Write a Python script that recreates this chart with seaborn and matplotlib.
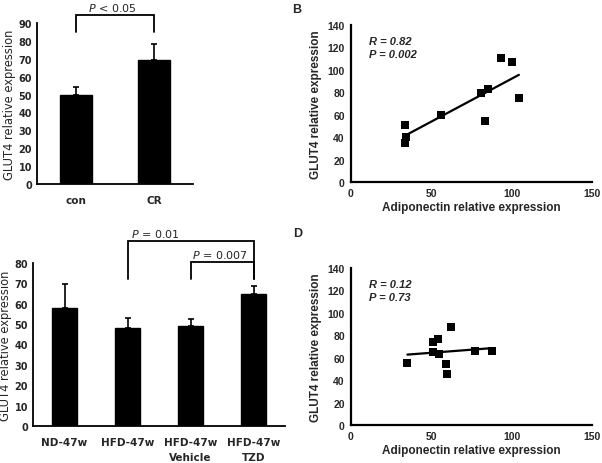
import numpy as np
import pandas as pd
import matplotlib
matplotlib.use("Agg")
import matplotlib.pyplot as plt
import seaborn as sns

sns.set_style("white")
plt.rcParams['font.family'] = ['DejaVu Sans']

# ---- data ----
a_cats = ["con", "CR"]
a_vals = [50, 69.5]
a_errs = [4, 8.5]

c_cats = ["ND-47w", "HFD-47w", "HFD-47w\nVehicle", "HFD-47w\nTZD"]
c_vals = [58, 48, 49, 65]
c_errs = [11.7, 5, 3.5, 3.8]

b_x = [33.7, 33.7, 34.5, 56.3, 80.8, 85.2, 83.1, 93.5, 99.9, 104.5]
b_y = [50.5, 34.5, 40.4, 59.8, 79.4, 83.2, 54.7, 110.9, 107.3, 74.9]

d_x = [35.1, 50.9, 54.0, 50.9, 54.6, 62.1, 59.4, 59.6, 77.1, 87.5]
d_y = [55.1, 73.9, 76.6, 65.5, 63.4, 87.3, 54.8, 45.6, 65.8, 66.1]

a_ticks = [0, 10, 20, 30, 40, 50, 60, 70, 80, 90]
c_ticks = [0, 10, 20, 30, 40, 50, 60, 70, 80]
sc_yticks = [0, 20, 40, 60, 80, 100, 120, 140]
sc_xticks = [0, 50, 100, 150]

W, H = 602, 464
fig = plt.figure(figsize=(W / 100, H / 100), dpi=100)


def px_axes(left, top, right, bottom):
    return fig.add_axes([left / W, 1 - bottom / H, (right - left) / W, (bottom - top) / H])


def bar_panel(ax, cats, vals, errs, yticks, ylim):
    df = pd.DataFrame({"cat": cats, "val": vals})
    sns.barplot(data=df, x="cat", y="val", color="black", width=0.4, ax=ax,
                saturation=1, edgecolor="black", errorbar=None)
    xs = np.arange(len(cats))
    ax.errorbar(xs, vals, yerr=[np.zeros(len(errs)), errs], fmt="none",
                ecolor="black", elinewidth=1.2, capsize=2, capthick=1.2)
    ax.set_xlim(-0.5, len(cats) - 0.5)
    ax.set_ylim(*ylim)
    ax.set_yticks(yticks)
    ax.set_yticklabels([str(t) for t in yticks], fontsize=7, fontweight="bold")
    ax.set_xticks(xs)
    ax.set_xticklabels(cats, fontsize=7.5, fontweight="bold", linespacing=1.55)
    ax.set_xticks(np.arange(len(cats) + 1) - 0.5, minor=True)
    ax.tick_params(axis="x", which="major", length=0, pad=8)
    ax.tick_params(axis="x", which="minor", length=3.5, width=1.2, direction="out")
    ax.tick_params(axis="y", length=3, width=1.2, direction="inout", pad=2)
    for s in ["top", "right"]:
        ax.spines[s].set_visible(False)
    for s in ["left", "bottom"]:
        ax.spines[s].set_linewidth(1.3)
        ax.spines[s].set_color("black")
    ax.set_xlabel("")
    ax.set_ylabel("GLUT4 relative expression", fontsize=8.3, labelpad=2)


def bracket(ax, x1, x2, ytop, yl, yr, text, tx, ty):
    ax.plot([x1, x1, x2, x2], [yl, ytop, ytop, yr], color="black", lw=1.3,
            clip_on=False, solid_joinstyle="miter")
    ax.text(tx, ty, text, ha="center", va="bottom", fontsize=8, clip_on=False)


# Panel A
axA = px_axes(37, 24, 193, 185)
bar_panel(axA, a_cats, a_vals, a_errs, a_ticks, (0, 90))
bracket(axA, 0, 1, 94.4, 85, 85, r"$P$ < 0.05", 0.47, 95.8)

# Panel C
axC = px_axes(33, 264, 285, 427)
bar_panel(axC, c_cats, c_vals, c_errs, c_ticks, (0, 80))
bracket(axC, 1, 3, 90.7, 72, 72, r"$P$ = 0.01", 1.44, 91.7)
bracket(axC, 2, 3, 80.3, 72, 72, r"$P$ = 0.007", 2.47, 81.6)


def scatter_panel(ax, xs, ys, rtxt, ptxt):
    df = pd.DataFrame({"x": xs, "y": ys})
    sns.scatterplot(data=df, x="x", y="y", marker="s", s=34, color="black",
                    edgecolor="black", linewidth=0, ax=ax, zorder=3)
    sns.regplot(data=df, x="x", y="y", scatter=False, ci=None, ax=ax,
                line_kws={"color": "black", "lw": 1.6}, truncate=True)
    ax.set_xlim(0, 150)
    ax.set_ylim(0, 140)
    ax.set_xticks(sc_xticks)
    ax.set_yticks(sc_yticks)
    ax.set_xticklabels([str(t) for t in sc_xticks], fontsize=7.5, fontweight="bold",
                       family="Liberation Sans")
    ax.set_yticklabels([str(t) for t in sc_yticks], fontsize=7.5, fontweight="bold",
                       family="Liberation Sans")
    ax.tick_params(axis="both", length=3, width=1.3, direction="inout", pad=3)
    for s in ["top", "right"]:
        ax.spines[s].set_visible(False)
    for s in ["left", "bottom"]:
        ax.spines[s].set_linewidth(1.6)
        ax.spines[s].set_color("black")
    ax.set_xlabel("Adiponectin relative expression", fontsize=8.5, fontweight="bold",
                  family="Liberation Sans", labelpad=2)
    ax.set_ylabel("GLUT4 relative expression", fontsize=8.5, fontweight="bold",
                  family="Liberation Sans", labelpad=4)
    ax.text(11.5, 126, rtxt, fontsize=8, fontweight="bold", fontstyle="italic",
            family="Liberation Sans", va="center", ha="left")
    ax.text(11.5, 114, ptxt, fontsize=8, fontweight="bold", fontstyle="italic",
            family="Liberation Sans", va="center", ha="left")


axB = px_axes(351, 26, 592, 183)
scatter_panel(axB, b_x, b_y, "R = 0.82", "P = 0.002")

axD = px_axes(351, 269, 592, 426)
scatter_panel(axD, d_x, d_y, "R = 0.12", "P = 0.73")

fig.text(297 / W, 1 - 10 / H, "B", fontsize=9, fontweight="bold",
         family="Liberation Sans", ha="center", va="center")
fig.text(298 / W, 1 - 234 / H, "D", fontsize=9, fontweight="bold",
         family="Liberation Sans", ha="center", va="center")

fig.savefig("out.png", dpi=100)
